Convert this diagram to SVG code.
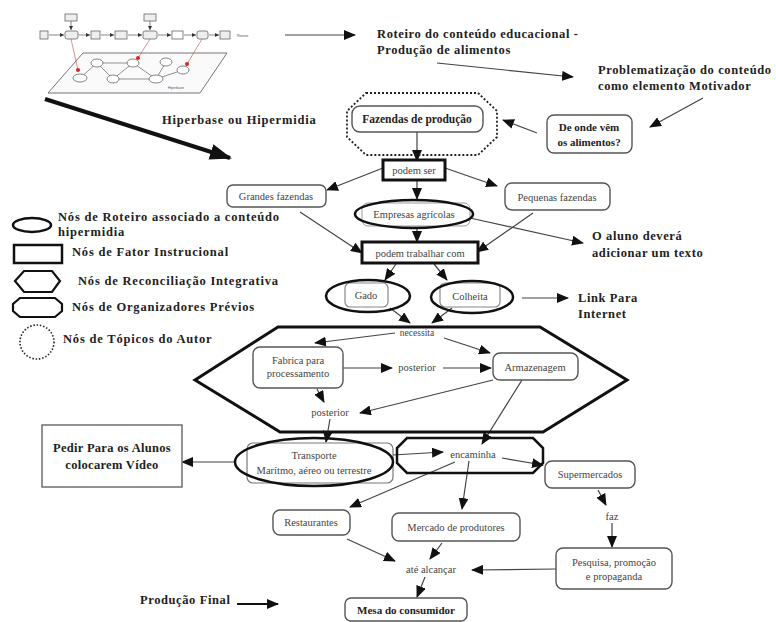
<svg xmlns="http://www.w3.org/2000/svg" width="776" height="622" viewBox="0 0 776 622">
<style>
.note{font-family:"Liberation Serif","Times New Roman",serif;font-weight:bold;font-size:12.5px;letter-spacing:0.6px;fill:#222}
.lg{font-family:"Liberation Serif","Times New Roman",serif;font-weight:bold;font-size:12.5px;letter-spacing:0.8px;fill:#222}
.nt{font-family:"Liberation Serif","Times New Roman",serif;font-size:10.5px;fill:#444;text-anchor:middle}
.nb{font-family:"Liberation Serif","Times New Roman",serif;font-weight:bold;font-size:11.5px;fill:#222;text-anchor:middle}
.rb{fill:#fff;stroke:#555;stroke-width:1.4}
.fx{fill:#fff;stroke:#111;stroke-width:3}
.ov{fill:none;stroke:#111;stroke-width:2.5}
.ar{fill:none;stroke:#444;stroke-width:1.2;marker-end:url(#ah)}
.tiny{font-family:"Liberation Sans",Arial,sans-serif;font-size:3.5px;fill:#555}
.tb{fill:#eee;stroke:#666;stroke-width:0.8}
</style>
<defs>
<marker id="ah" markerUnits="userSpaceOnUse" markerWidth="12" markerHeight="10" refX="11" refY="5" orient="auto">
<path d="M0,0 L12,5 L0,10 z" fill="#111"/>
</marker>
<marker id="ahs" markerUnits="userSpaceOnUse" markerWidth="4" markerHeight="4" refX="4" refY="2" orient="auto">
<path d="M0,0 L4,2 L0,4 z" fill="#333"/>
</marker>
<marker id="ahb" markerUnits="userSpaceOnUse" markerWidth="22" markerHeight="16" refX="20" refY="8" orient="auto">
<path d="M0,0 L22,8 L0,16 z" fill="#111"/>
</marker>
</defs>
<rect width="776" height="622" fill="#fff"/>

<!-- thumbnail -->
<g id="thumbnail">
<polygon points="83,53 227,53 200,93 48,93" fill="#fafafa" stroke="#666" stroke-width="0.9"/>
<g stroke="#777" stroke-width="0.8" fill="none">
<path d="M80,78 L97,63 L113,79 L133,63 L156,79 L166,62 M156,79 L183,70 M113,79 L156,79 M97,63 L133,63"/>
</g>
<g fill="#fff" stroke="#666" stroke-width="0.8">
<ellipse cx="80" cy="78" rx="7" ry="4"/>
<ellipse cx="97" cy="63" rx="6" ry="4"/>
<ellipse cx="113" cy="79" rx="6" ry="4"/>
<ellipse cx="133" cy="63" rx="6" ry="4"/>
<ellipse cx="156" cy="79" rx="7" ry="4"/>
<ellipse cx="166" cy="62" rx="6" ry="4"/>
<ellipse cx="183" cy="70" rx="6" ry="4"/>
</g>
<g stroke="#c44" stroke-width="0.6">
<line x1="71" y1="39" x2="78" y2="70"/>
<line x1="150" y1="39" x2="138" y2="58"/>
<line x1="202" y1="39" x2="187" y2="64"/>
</g>
<g fill="#d22"><circle cx="78" cy="70" r="2"/><circle cx="138" cy="58" r="2"/><circle cx="187" cy="64" r="2"/></g>
<g stroke="#555" stroke-width="0.7" marker-end="url(#ahs)">
<line x1="49" y1="35" x2="64" y2="35"/><line x1="79" y1="35" x2="90" y2="35"/><line x1="101" y1="35" x2="114" y2="35"/><line x1="128" y1="35" x2="142" y2="35"/><line x1="158" y1="35" x2="171" y2="35"/><line x1="184" y1="35" x2="196" y2="35"/><line x1="209" y1="35" x2="219" y2="35"/>
<line x1="71" y1="21" x2="71" y2="30"/><line x1="150" y1="21" x2="150" y2="30"/>
</g>
<rect class="tb" x="40" y="31" width="8" height="8"/>
<rect class="tb" x="65" y="31" width="13" height="8" rx="2"/>
<rect class="tb" x="91" y="31" width="9" height="8"/>
<rect class="tb" x="115" y="31" width="12" height="8"/>
<rect class="tb" x="143" y="31" width="14" height="8" rx="2"/>
<rect x="172" y="31" width="11" height="8" fill="#fff" stroke="#666" stroke-width="0.8"/>
<rect class="tb" x="197" y="31" width="11" height="8" rx="2"/>
<rect class="tb" x="220" y="31" width="10" height="8"/>
<rect class="tb" x="65" y="14" width="12" height="7"/>
<rect class="tb" x="144" y="14" width="12" height="7"/>
<text class="tiny" x="237" y="37">Roteiro</text>
<text class="tiny" x="168" y="89">Hiperbase</text>
</g>

<!-- annotations -->
<g id="annotations">
<text class="note" x="377" y="38">Roteiro do conteúdo educacional -</text>
<text class="note" x="377" y="54">Produção de alimentos</text>
<text class="note" x="598" y="74">Problematização do conteúdo</text>
<text class="note" x="598" y="90">como elemento Motivador</text>
<text class="note" x="162" y="124" style="letter-spacing:0.8px">Hiperbase ou Hipermidia</text>
<text class="note" x="592" y="240">O aluno deverá</text>
<text class="note" x="592" y="257">adicionar um texto</text>
<text class="note" x="578" y="302">Link Para</text>
<text class="note" x="578" y="318">Internet</text>
<text class="note" x="140" y="604">Produção Final</text>
</g>

<!-- legend -->
<g id="legend">
<ellipse cx="32" cy="225" rx="19" ry="7" class="ov"/>
<text class="lg" x="58" y="221">Nós de Roteiro associado a conteúdo</text>
<text class="lg" x="58" y="236">hipermidia</text>
<rect x="14" y="245" width="48" height="18" fill="#fff" stroke="#111" stroke-width="2.5"/>
<text class="lg" x="72" y="256">Nós de Fator Instrucional</text>
<polygon points="15,281 24,271 52,271 60,281 52,292 24,292" fill="#fff" stroke="#111" stroke-width="2.2"/>
<text class="lg" x="78" y="285">Nós de Reconciliação Integrativa</text>
<path d="M20,298 H55 L62,304 V311 L55,317 H20 L13,311 V304 Z" fill="#fff" stroke="#111" stroke-width="2.2"/>
<text class="lg" x="72" y="311">Nós de Organizadores Prévios</text>
<circle cx="37" cy="342" r="17" fill="none" stroke="#222" stroke-width="1.6" stroke-dasharray="1.5,1.8"/>
<text class="lg" x="63" y="343">Nós de Tópicos do Autor</text>
</g>

<!-- connectors -->
<g id="connectors">
<line x1="285" y1="35" x2="355" y2="35" class="ar"/>
<line x1="45" y1="99" x2="230" y2="158" stroke="#111" stroke-width="4" marker-end="url(#ahb)"/>
<line x1="437" y1="63" x2="573" y2="77" class="ar"/>
<line x1="703" y1="98" x2="650" y2="127" class="ar"/>
<line x1="537" y1="133" x2="503" y2="120" class="ar"/>
<line x1="417" y1="132" x2="417" y2="161" class="ar"/>
<line x1="383" y1="168" x2="327" y2="190" class="ar"/>
<line x1="445" y1="168" x2="497" y2="186" class="ar"/>
<line x1="417" y1="180" x2="417" y2="199" class="ar"/>
<line x1="300" y1="212" x2="362" y2="253" class="ar"/>
<line x1="533" y1="213" x2="477" y2="252" class="ar"/>
<line x1="417" y1="228" x2="417" y2="242" class="ar"/>
<line x1="470" y1="218" x2="583" y2="243" class="ar"/>
<line x1="396" y1="264" x2="385" y2="280" class="ar"/>
<line x1="434" y1="264" x2="447" y2="280" class="ar"/>
<line x1="522" y1="298" x2="568" y2="298" class="ar"/>
<line x1="390" y1="308" x2="410" y2="323" class="ar"/>
<line x1="452" y1="308" x2="432" y2="323" class="ar"/>
<line x1="395" y1="333" x2="315" y2="343" class="ar"/>
<line x1="444" y1="338" x2="490" y2="353" class="ar"/>
<line x1="343" y1="368" x2="392" y2="368" class="ar"/>
<line x1="443" y1="368" x2="491" y2="368" class="ar"/>
<line x1="317" y1="389" x2="324" y2="402" class="ar"/>
<line x1="493" y1="380" x2="360" y2="413" class="ar"/>
<line x1="330" y1="419" x2="326" y2="442" class="ar"/>
<line x1="522" y1="380" x2="482" y2="444" class="ar"/>
<line x1="234" y1="462" x2="182" y2="462" class="ar"/>
<line x1="393" y1="455" x2="443" y2="452" class="ar"/>
<line x1="502" y1="458" x2="543" y2="465" class="ar"/>
<line x1="455" y1="462" x2="350" y2="507" class="ar"/>
<line x1="469" y1="461" x2="462" y2="509" class="ar"/>
<line x1="598" y1="490" x2="606" y2="505" class="ar"/>
<line x1="612" y1="523" x2="612" y2="547" class="ar"/>
<line x1="556" y1="569" x2="472" y2="570" class="ar"/>
<line x1="347" y1="539" x2="395" y2="561" class="ar"/>
<line x1="442" y1="543" x2="430" y2="559" class="ar"/>
<line x1="425" y1="577" x2="417" y2="597" class="ar"/>
<line x1="237" y1="604" x2="278" y2="604" stroke="#111" stroke-width="2" marker-end="url(#ah)"/>
</g>

<!-- nodes -->
<g id="n-fazendas">
<polygon points="366,93 478,93 497,111 497,137 478,155 366,155 347,137 347,111" fill="none" stroke="#222" stroke-width="1.8" stroke-dasharray="2,2"/>
<rect class="rb" x="352" y="106" width="131" height="26" rx="8"/>
<text class="nb" x="417" y="123">Fazendas de produção</text>
</g>
<g id="n-deonde">
<rect class="rb" x="547" y="115" width="85" height="38" rx="7"/>
<text class="nb" x="589" y="131" style="font-size:11px">De onde vêm</text>
<text class="nb" x="589" y="146" style="font-size:11px">os alimentos?</text>
</g>
<g id="n-podemser">
<rect class="fx" x="383" y="160" width="62" height="20"/>
<text class="nt" x="414" y="174">podem ser</text>
</g>
<g id="n-grandes">
<rect class="rb" x="227" y="185" width="99" height="22" rx="6"/>
<text class="nt" x="276" y="200">Grandes fazendas</text>
</g>
<g id="n-pequenas">
<rect class="rb" x="505" y="183" width="105" height="27" rx="7"/>
<text class="nt" x="557" y="201">Pequenas fazendas</text>
</g>
<g id="n-empresas">
<rect x="362" y="203" width="108" height="23" rx="6" fill="#fff" stroke="#999" stroke-width="1"/>
<ellipse cx="414" cy="214" rx="59" ry="14" class="ov"/>
<text class="nt" x="414" y="218">Empresas agrícolas</text>
</g>
<g id="n-podemtrab">
<rect class="fx" x="362" y="242" width="116" height="21"/>
<text class="nt" x="420" y="257">podem trabalhar com</text>
</g>
<g id="n-gado">
<rect x="345" y="283" width="43" height="24" rx="5" fill="#fff" stroke="#888" stroke-width="1.2"/>
<ellipse cx="368" cy="296" rx="42" ry="16" class="ov"/>
<text class="nt" x="366" y="299">Gado</text>
</g>
<g id="n-colheita">
<rect x="440" y="283" width="60" height="24" rx="5" fill="#fff" stroke="#888" stroke-width="1.2"/>
<ellipse cx="472" cy="297" rx="41" ry="16" class="ov"/>
<text class="nt" x="470" y="300">Colheita</text>
</g>
<g id="n-hexagono">
<polygon points="195,380 278,327 540,327 627,380 543,432 280,432" fill="none" stroke="#111" stroke-width="3"/>
<text class="nt" x="417" y="336" style="font-size:9.5px">necessita</text>
</g>
<g id="n-fabrica">
<rect class="rb" x="253" y="347" width="90" height="41" rx="7"/>
<text class="nt" x="298" y="364">Fabrica para</text>
<text class="nt" x="298" y="377">processamento</text>
</g>
<g id="n-posterior1">
<text class="nt" x="417" y="371">posterior</text>
</g>
<g id="n-armazenagem">
<rect class="rb" x="493" y="353" width="85" height="27" rx="7"/>
<text class="nt" x="535" y="371">Armazenagem</text>
</g>
<g id="n-posterior2">
<text class="nt" x="330" y="416">posterior</text>
</g>
<g id="n-transporte">
<rect x="247" y="443" width="146" height="40" rx="6" fill="#fff" stroke="#777" stroke-width="1.2"/>
<ellipse cx="314" cy="462" rx="79" ry="24" class="ov"/>
<text class="nt" x="314" y="459">Transporte</text>
<text class="nt" x="314" y="474">Marítmo, aéreo ou terrestre</text>
</g>
<g id="n-pedir">
<rect x="42" y="425" width="140" height="62" fill="#fff" stroke="#777" stroke-width="1.6"/>
<text class="nb" x="112" y="452" style="font-size:12.5px;letter-spacing:0.3px">Pedir Para os Alunos</text>
<text class="nb" x="112" y="469" style="font-size:12.5px;letter-spacing:0.3px">colocarem Vídeo</text>
</g>
<g id="n-encaminha">
<polygon points="407,438 533,438 543,448 543,463 533,473 407,473 397,463 397,448" fill="none" stroke="#111" stroke-width="2.5"/>
<text class="nt" x="473" y="458">encaminha</text>
</g>
<g id="n-supermercados">
<rect class="rb" x="545" y="461" width="90" height="27" rx="7"/>
<text class="nt" x="590" y="478">Supermercados</text>
</g>
<g id="n-faz">
<text class="nt" x="612" y="520">faz</text>
</g>
<g id="n-restaurantes">
<rect class="rb" x="273" y="510" width="77" height="25" rx="7"/>
<text class="nt" x="311" y="526">Restaurantes</text>
</g>
<g id="n-mercado">
<rect class="rb" x="392" y="513" width="128" height="28" rx="7"/>
<text class="nt" x="456" y="531">Mercado de produtores</text>
</g>
<g id="n-pesquisa">
<rect class="rb" x="556" y="548" width="116" height="41" rx="7"/>
<text class="nt" x="614" y="566">Pesquisa, promoção</text>
<text class="nt" x="614" y="580">e propaganda</text>
</g>
<g id="n-ate">
<text class="nt" x="431" y="573">até alcançar</text>
</g>
<g id="n-mesa">
<rect class="rb" x="345" y="598" width="122" height="23" rx="6"/>
<text class="nb" x="406" y="614" style="font-size:11px">Mesa do consumidor</text>
</g>
</svg>
